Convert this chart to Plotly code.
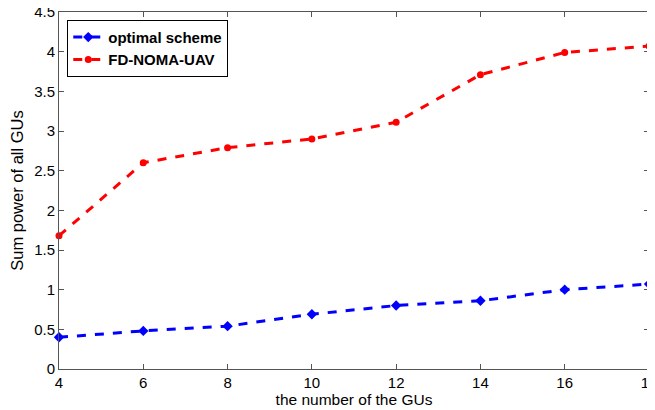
import plotly.graph_objects as go

x_gus = [4, 6, 8, 10, 12, 14, 16, 18]
optimal_scheme = [0.40, 0.48, 0.54, 0.69, 0.80, 0.86, 1.00, 1.07]
fd_noma_uav = [1.68, 2.60, 2.79, 2.90, 3.11, 3.71, 3.99, 4.07]
x_ticks = [4, 6, 8, 10, 12, 14, 16, 18]
y_ticks = [0, 0.5, 1, 1.5, 2, 2.5, 3, 3.5, 4, 4.5]
y_tick_labels = ["0", "0.5", "1", "1.5", "2", "2.5", "3", "3.5", "4", "4.5"]

fig = go.Figure()
fig.add_trace(go.Scatter(
    x=x_gus, y=optimal_scheme, name="optimal scheme", mode="lines+markers",
    line=dict(color="#0000ff", width=3, dash="dash"),
    marker=dict(symbol="diamond", size=8, color="#0000ff"), cliponaxis=False))
fig.add_trace(go.Scatter(
    x=x_gus, y=fd_noma_uav, name="FD-NOMA-UAV", mode="lines+markers",
    line=dict(color="#ff0000", width=3, dash="dash"),
    marker=dict(symbol="circle", size=7, color="#ff0000"), cliponaxis=False))

tick_font = dict(family="Liberation Sans, Arial", size=15, color="black")
axis_common = dict(showgrid=False, zeroline=False, showline=True, linecolor="#555555",
                   linewidth=1, mirror="ticks", ticks="inside", ticklen=5, tickcolor="#555555",
                   tickfont=tick_font, automargin=False, ticklabeloverflow="allow")
fig.update_xaxes(range=[4, 18], tickvals=x_ticks,
                 title=dict(text="the number of the GUs",
                            font=dict(family="Liberation Sans, Arial", size=15.5, color="black"), standoff=3),
                 **axis_common)
fig.update_yaxes(range=[0, 4.5], tickvals=y_ticks, ticktext=y_tick_labels,
                 title=dict(text="Sum power of all GUs",
                            font=dict(family="Liberation Sans, Arial", size=16.5, color="black"), standoff=6),
                 **axis_common)
fig.update_layout(
    width=647, height=402, plot_bgcolor="white", paper_bgcolor="white",
    margin=dict(l=51, r=6, t=4, b=41),
    legend=dict(x=0.014, y=0.978, xanchor="left", yanchor="top",
                bordercolor="black", borderwidth=1, bgcolor="white",
                font=dict(family="Liberation Sans, Arial", size=15, color="black", weight="bold"),
                tracegroupgap=0, itemwidth=30),
)
fig.write_html("out.html")
